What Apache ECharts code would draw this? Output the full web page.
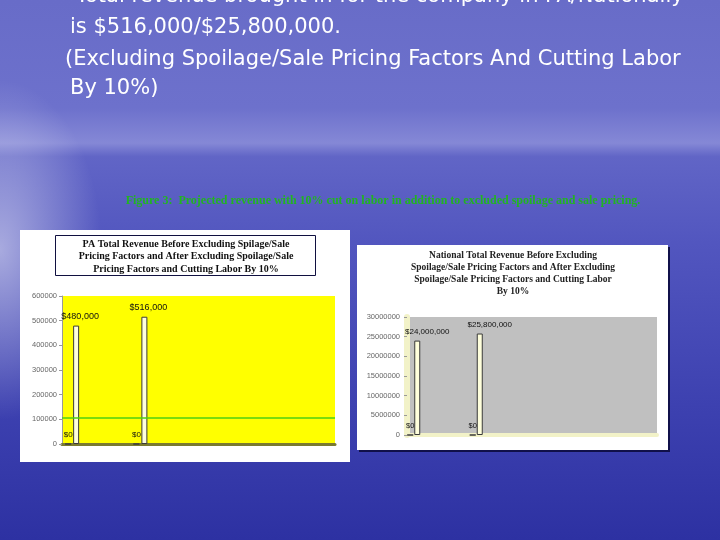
<!DOCTYPE html>
<html>
<head>
<meta charset="utf-8">
<script src="https://cdn.jsdelivr.net/npm/echarts@6/dist/echarts.min.js"></script>
<style>html,body{margin:0;padding:0;background:#4a4eb8;}#c{width:720px;height:540px;}</style>
</head>
<body>
<div id="c"></div>
<script>
// ---- data ----
const slideLines = [
  '\u2022  Total revenue brought in for the company in PA/Nationally',
  'is $516,000/$25,800,000.',
  '(Excluding Spoilage/Sale Pricing Factors And Cutting Labor',
  'By 10%)'
];
const figureCaption = 'Figure 3:  Projected revenue with 10% cut on labor in addition to excluded spoilage and sale pricing.';
const paTitleLines = [
  'PA Total Revenue Before Excluding Spilage/Sale',
  'Pricing Factors and After Excluding Spoilage/Sale',
  'Pricing Factors and Cutting Labor By 10%'
];
const natTitleLines = [
  'National Total Revenue Before Excluding',
  'Spoilage/Sale Pricing Factors and After Excluding',
  'Spoilage/Sale Pricing Factors and Cutting Labor',
  'By 10%'
];
const categories = ['Before', 'After', '', ''];
const zeroValues = [0, 0, '-', '-'];
const zeroLabels = ['$0', '$0'];
const paRevenue = [480000, 516000, '-', '-'];
const paLabels = ['$480,000', '$516,000'];
const paReferenceLine = 108000;
const paAxisMax = 600000;
const paAxisStep = 100000;
const natRevenue = [24000000, 25800000, '-', '-'];
const natLabels = ['$24,000,000', '$25,800,000'];
const natAxisMax = 30000000;
const natAxisStep = 5000000;
const emptyValues = ['-', '-', '-', '-'];

// ---- chart ----
const chart = echarts.init(document.getElementById('c'), null, {renderer: 'canvas'});
const slideFont = '"DejaVu Sans", Verdana, sans-serif';
const graphic = [];
function radial(inner, outer) {
  return new echarts.graphic.RadialGradient(0.5, 0.5, 0.5, [{offset: 0, color: inner}, {offset: 1, color: outer}]);
}
// background sky/sea
graphic.push({type: 'rect', z: -100, shape: {x: 0, y: 0, width: 720, height: 540},
  style: {fill: new echarts.graphic.LinearGradient(0, 0, 0, 1, [
    {offset: 0, color: '#686cc8'}, {offset: 0.2, color: '#6d71cc'}, {offset: 0.265, color: '#8588d6'},
    {offset: 0.29, color: '#6165c6'}, {offset: 0.45, color: '#5256bf'}, {offset: 0.75, color: '#3d41b0'},
    {offset: 1, color: '#2d31a2'}])}});
graphic.push({type: 'circle', z: -99, x: 0, y: 250, scaleX: 0.6, shape: {cx: 0, cy: 0, r: 170},
  style: {fill: radial('rgba(255,255,255,0.5)', 'rgba(255,255,255,0)')}});
// slide text
const slideY = [-3, 28, 60, 89];
const slideX = [50, 70, 65, 70];
slideLines.forEach((t, i) => graphic.push({type: 'text', z: 10, x: slideX[i], y: slideY[i],
  style: {text: t, fill: '#ffffff', font: '21px ' + slideFont, textVerticalAlign: 'middle',
    textShadowColor: 'rgba(0,0,40,0.35)', textShadowOffsetX: 1, textShadowOffsetY: 1}}));
graphic.push({type: 'text', z: 10, x: 383, y: 201,
  style: {text: figureCaption, fill: '#22b422', font: 'bold 12px "Liberation Serif", serif',
    textAlign: 'center', textVerticalAlign: 'middle'}});
// chart panels
graphic.push({type: 'rect', z: -50, shape: {x: 20, y: 230, width: 330, height: 232}, style: {fill: '#ffffff'}});
graphic.push({type: 'rect', z: -51, shape: {x: 359, y: 247, width: 311, height: 205}, style: {fill: '#10104a'}});
graphic.push({type: 'rect', z: -50, shape: {x: 357, y: 245, width: 311, height: 205}, style: {fill: '#ffffff'}});
graphic.push({type: 'rect', z: -49, shape: {x: 55.5, y: 235.5, width: 260, height: 40},
  style: {fill: '#ffffff', stroke: '#101040', lineWidth: 1}});
paTitleLines.forEach((t, i) => graphic.push({type: 'text', z: 10, x: 186, y: 244 + i * 12.5,
  style: {text: t, fill: '#111', font: 'bold 10px "Liberation Serif", serif', textAlign: 'center', textVerticalAlign: 'middle'}}));
natTitleLines.forEach((t, i) => graphic.push({type: 'text', z: 10, x: 513, y: 256 + i * 11.7,
  style: {text: t, fill: '#222', font: 'bold 9.5px "Liberation Serif", serif', textAlign: 'center', textVerticalAlign: 'middle'}}));

function valueLabel(labels, size, dx) {
  return {show: true, position: 'top', distance: 5, offset: [dx, 0], fontSize: size, color: '#111',
    fontFamily: 'Liberation Sans, Arial, sans-serif', formatter: p => labels[p.dataIndex] || ''};
}
const barStyle = {color: '#ffffdc', borderColor: '#3a3a3a', borderWidth: 1};
const plainNumber = v => String(v);

chart.setOption({
  animation: false,
  graphic: graphic,
  grid: [
    {left: 62, top: 296, width: 273, height: 148, show: true, backgroundColor: '#ffff00', borderWidth: 0},
    {left: 407, top: 317, width: 250, height: 118, show: true, backgroundColor: '#c0c0c0', borderWidth: 0}
  ],
  xAxis: [
    {gridIndex: 0, type: 'category', data: categories, axisLabel: {show: false}, axisTick: {show: false},
      axisLine: {lineStyle: {color: '#7a7a30', width: 3}}},
    {gridIndex: 1, type: 'category', data: categories, axisLabel: {show: false}, axisTick: {show: false},
      axisLine: {lineStyle: {color: '#f2f2c8', width: 4}}}
  ],
  yAxis: [
    {gridIndex: 0, type: 'value', min: 0, max: paAxisMax, interval: paAxisStep, splitLine: {show: false},
      axisLine: {show: true, lineStyle: {color: '#999', width: 1}}, axisTick: {show: true, length: 3, lineStyle: {color: '#999'}},
      axisLabel: {margin: 5, fontSize: 7.5, color: '#666', fontFamily: 'Liberation Sans, Arial, sans-serif', formatter: plainNumber}},
    {gridIndex: 1, type: 'value', min: 0, max: natAxisMax, interval: natAxisStep, splitLine: {show: false},
      axisLine: {show: true, lineStyle: {color: '#f2f2c8', width: 6}}, axisTick: {show: true, length: 3, lineStyle: {color: '#999'}},
      axisLabel: {margin: 7, fontSize: 7.5, color: '#666', fontFamily: 'Liberation Sans, Arial, sans-serif', formatter: plainNumber}}
  ],
  series: [
    {type: 'bar', xAxisIndex: 0, yAxisIndex: 0, data: zeroValues, barWidth: 6, barGap: '33%', itemStyle: barStyle,
      label: valueLabel(zeroLabels, 8, 0), silent: true},
    {type: 'bar', xAxisIndex: 0, yAxisIndex: 0, data: paRevenue, barWidth: 6, barGap: '33%', itemStyle: barStyle,
      label: valueLabel(paLabels, 9, 4), silent: true,
      markLine: {silent: true, symbol: 'none', label: {show: false}, emphasis: {disabled: true},
        lineStyle: {color: '#4fd010', width: 1.5, type: 'solid', opacity: 1},
        data: [{yAxis: paReferenceLine}]}},
    {type: 'bar', xAxisIndex: 0, yAxisIndex: 0, data: emptyValues, barWidth: 46, barGap: '33%', silent: true},
    {type: 'bar', xAxisIndex: 1, yAxisIndex: 1, data: zeroValues, barWidth: 6, barGap: '17%', itemStyle: barStyle,
      label: valueLabel(zeroLabels, 7.5, 0), silent: true},
    {type: 'bar', xAxisIndex: 1, yAxisIndex: 1, data: natRevenue, barWidth: 6, barGap: '17%', itemStyle: barStyle,
      label: valueLabel(natLabels, 8, 10), silent: true},
    {type: 'bar', xAxisIndex: 1, yAxisIndex: 1, data: emptyValues, barWidth: 48, barGap: '17%', silent: true}
  ]
});
</script>
</body>
</html>
